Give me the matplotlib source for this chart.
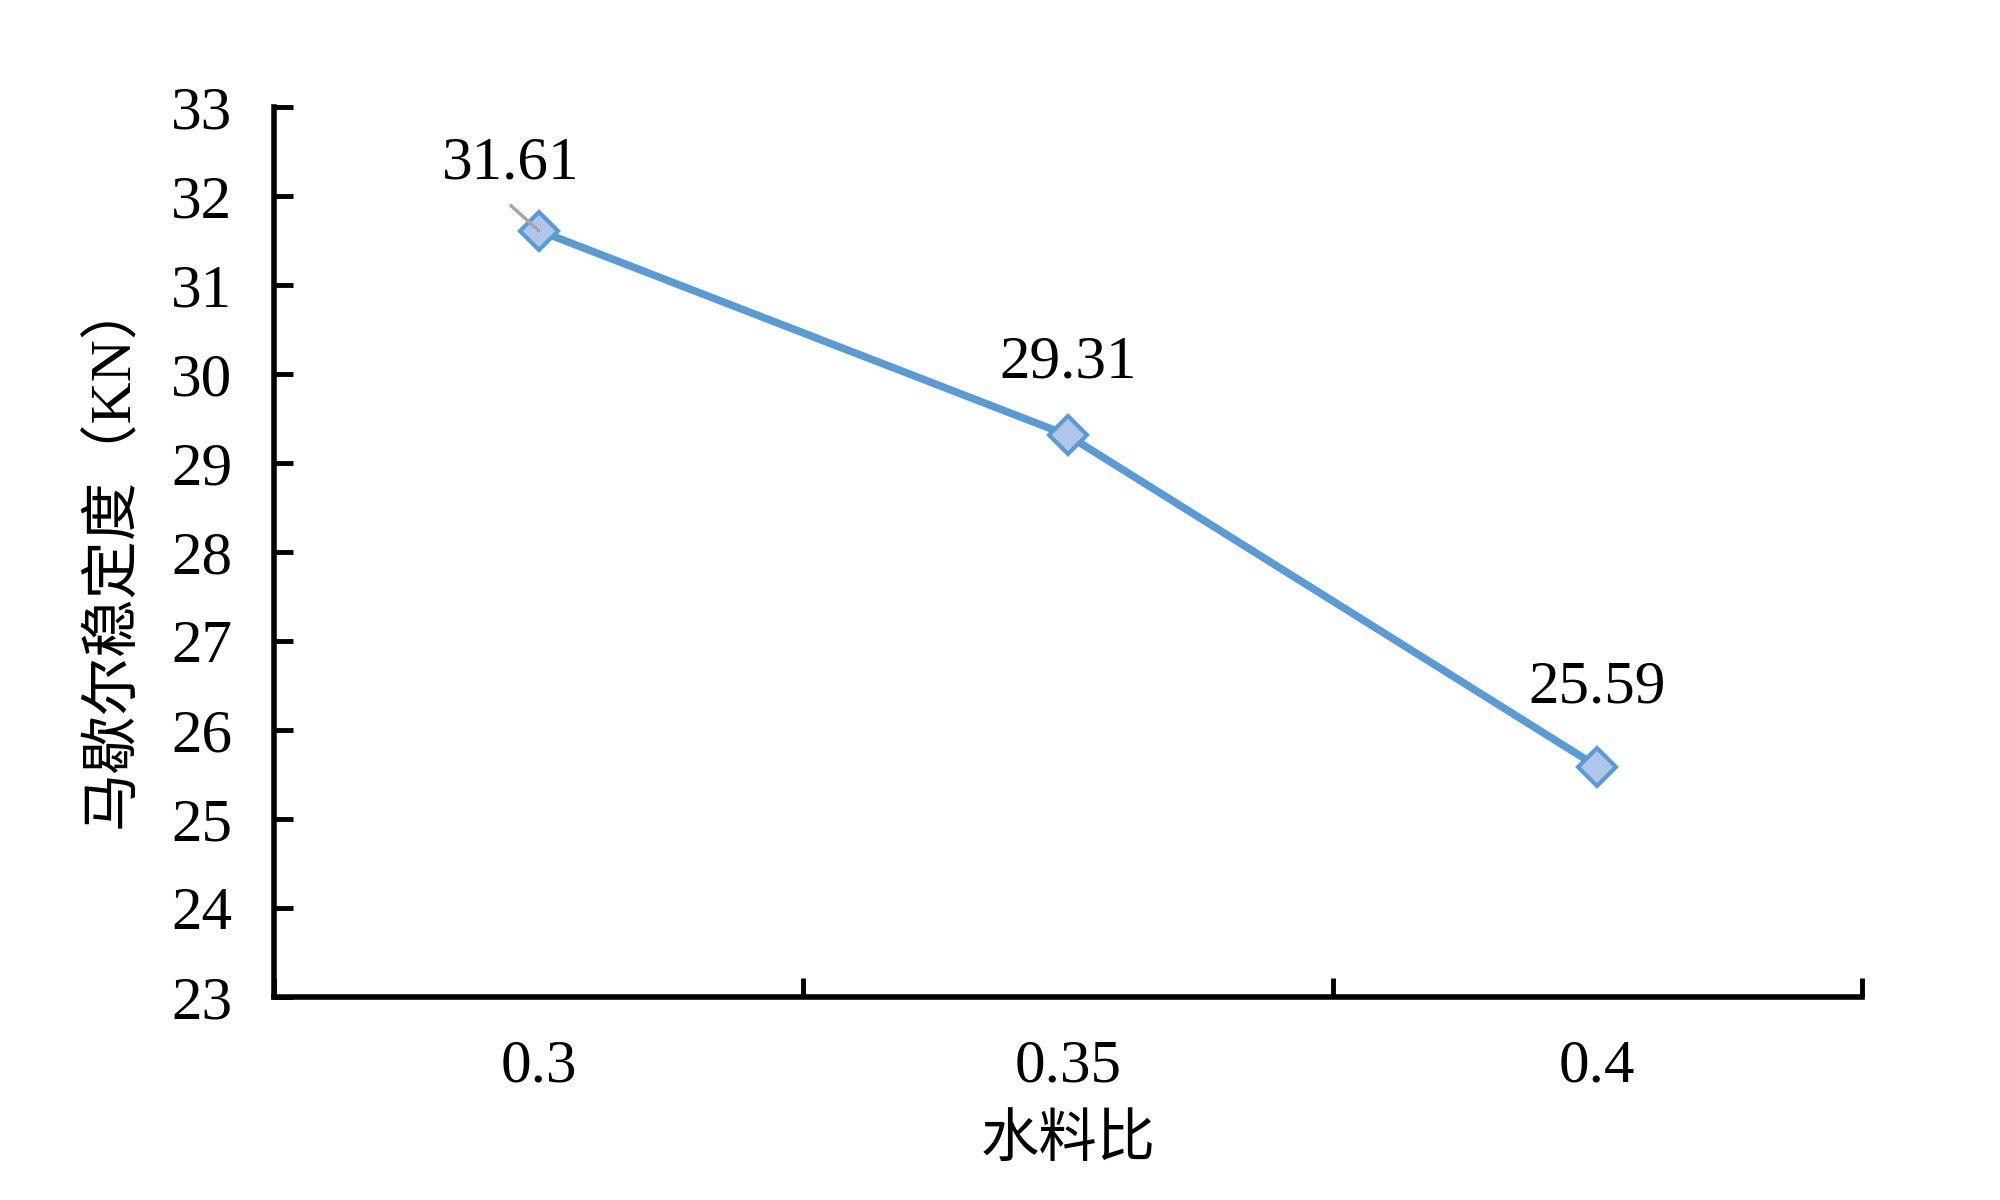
import matplotlib.pyplot as plt

plt.rcParams['font.family'] = ['Liberation Serif', 'Noto Sans CJK SC']

# data
categories = ["0.3", "0.35", "0.4"]
stability = [31.61, 29.31, 25.59]
label_offsets = [(-20, 48), (0, 52), (0, 57)]  # pixel offsets for value labels

fig = plt.figure(figsize=(20, 12), dpi=100)
ax = fig.add_axes([0.137, 0.169, 0.794, 0.742])

x = list(range(len(categories)))
ax.plot(x, stability, color="#5B9BD5", linewidth=5.5, marker="D", markersize=19,
        markerfacecolor="#AFC6E9", markeredgecolor="#5B9BD5", markeredgewidth=3, zorder=3)

for i, v in enumerate(stability):
    dx, dy = label_offsets[i]
    ax.annotate(f"{v:.2f}", xy=(x[i], v), xytext=(dx, dy), textcoords="offset points",
                ha="center", va="center", fontsize=44, color="black")

# leader line for the first label
ax.annotate("", xy=(x[0], stability[0]), xytext=(-20, 18), textcoords="offset points",
            arrowprops=dict(arrowstyle="-", color="#A6A6A6", lw=2.5, shrinkA=0, shrinkB=0))

ax.set_xlim(-0.5, len(categories) - 0.5)
ax.set_ylim(23, 33)
ax.set_yticks(range(23, 34))
ax.set_xticks(x)
ax.set_xticklabels(categories)
ax.set_xticks([i - 0.5 for i in range(len(categories) + 1)], minor=True)

ax.tick_params(axis="y", direction="in", length=14, width=3.5, labelsize=44, pad=30)
ax.tick_params(axis="x", which="major", length=0, labelsize=44, pad=30)
ax.tick_params(axis="x", which="minor", direction="in", length=14, width=3.5)

for s in ["top", "right"]:
    ax.spines[s].set_visible(False)
ax.spines["left"].set_linewidth(4)
ax.spines["bottom"].set_linewidth(4)

ax.set_xlabel("水料比", fontsize=42, labelpad=14)
ax.set_ylabel("马歇尔稳定度（KN）", fontsize=42, labelpad=22)

fig.savefig("out.png", dpi=100)
